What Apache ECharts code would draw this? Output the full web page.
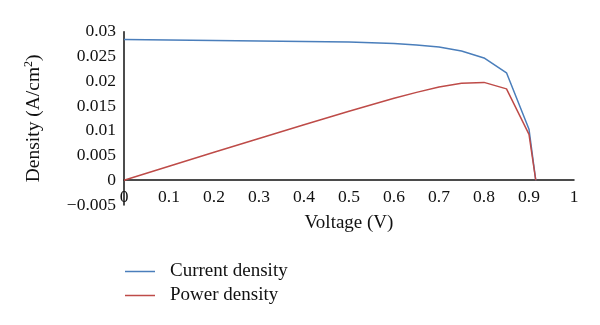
<!DOCTYPE html>
<html><head><meta charset="utf-8">
<script src="https://cdn.jsdelivr.net/npm/echarts@6/dist/echarts.min.js"></script>
<style>html,body{margin:0;padding:0;background:#fff}#c{width:600px;height:325px}</style>
</head><body><div id="c"></div>
<script>
var voltage = [0, 0.1, 0.2, 0.3, 0.4, 0.5, 0.6, 0.65, 0.7, 0.75, 0.8, 0.85, 0.9, 0.915];
var currentDensity = [0.0284, 0.0283, 0.0282, 0.0281, 0.0280, 0.0279, 0.0276, 0.0273, 0.0269, 0.0261, 0.0247, 0.0217, 0.0103, 0];
var powerDensity = [0, 0.00283, 0.00564, 0.00843, 0.0112, 0.01395, 0.01656, 0.01775, 0.01883, 0.01958, 0.01976, 0.01845, 0.00927, 0];
var xTicks = [0, 0.1, 0.2, 0.3, 0.4, 0.5, 0.6, 0.7, 0.8, 0.9, 1];
var seriesNames = ['Current density', 'Power density'];

var font = 'Liberation Serif';
function pairs(xs, ys){ return xs.map(function(x,i){ return [x, ys[i]]; }); }
var chart = echarts.init(document.getElementById('c'));
chart.setOption({
  animation: false,
  textStyle: {fontFamily: font},
  grid: {left: 124, right: 26, top: 31.7, bottom: 120, containLabel: false},
  legend: {
    orient: 'vertical', left: 120, top: 257, icon: 'rect', itemWidth: 30, itemHeight: 1.5, itemGap: 5,
    textStyle: {fontFamily: font, fontSize: 19, color: '#111', padding: [0,0,0,10]},
    data: seriesNames
  },
  xAxis: {
    type: 'value', min: 0, max: 1, interval: 0.1,
    name: 'Voltage (V)', nameLocation: 'middle', nameGap: 9,
    nameTextStyle: {fontFamily: font, fontSize: 19, color: '#111'},
    axisLine: {show: true, onZero: true, lineStyle: {color: '#111', width: 1.5}},
    axisTick: {show: false}, splitLine: {show: false},
    axisLabel: {fontFamily: font, fontSize: 17.5, color: '#111', margin: -17,
      formatter: function(v){ return String(Math.round(v*10)/10); }}
  },
  yAxis: {
    type: 'value', min: -0.005, max: 0.03, interval: 0.005,
    name: 'Density (A/cm{sup|2})', nameLocation: 'middle', nameGap: 80,
    nameTextStyle: {fontFamily: font, fontSize: 19.5, color: '#111',
      rich: {sup: {fontFamily: font, fontSize: 12, color: '#111', verticalAlign: 'top', padding: [0,0,9,0]}}},
    axisLine: {show: true, lineStyle: {color: '#111', width: 1.5}},
    axisTick: {show: false}, splitLine: {show: false},
    axisLabel: {fontFamily: font, fontSize: 17.5, color: '#111', margin: 8,
      formatter: function(v){ var r = Math.round(v*1000)/1000; return String(r).replace('-', '\u2212'); }}
  },
  series: [
    {name: seriesNames[0], type: 'line', symbol: 'none', data: pairs(voltage, currentDensity),
     lineStyle: {color: '#4a7ebb', width: 1.5}, itemStyle: {color: '#4a7ebb'}},
    {name: seriesNames[1], type: 'line', symbol: 'none', data: pairs(voltage, powerDensity),
     lineStyle: {color: '#be4b48', width: 1.5}, itemStyle: {color: '#be4b48'}}
  ]
});
</script></body></html>
